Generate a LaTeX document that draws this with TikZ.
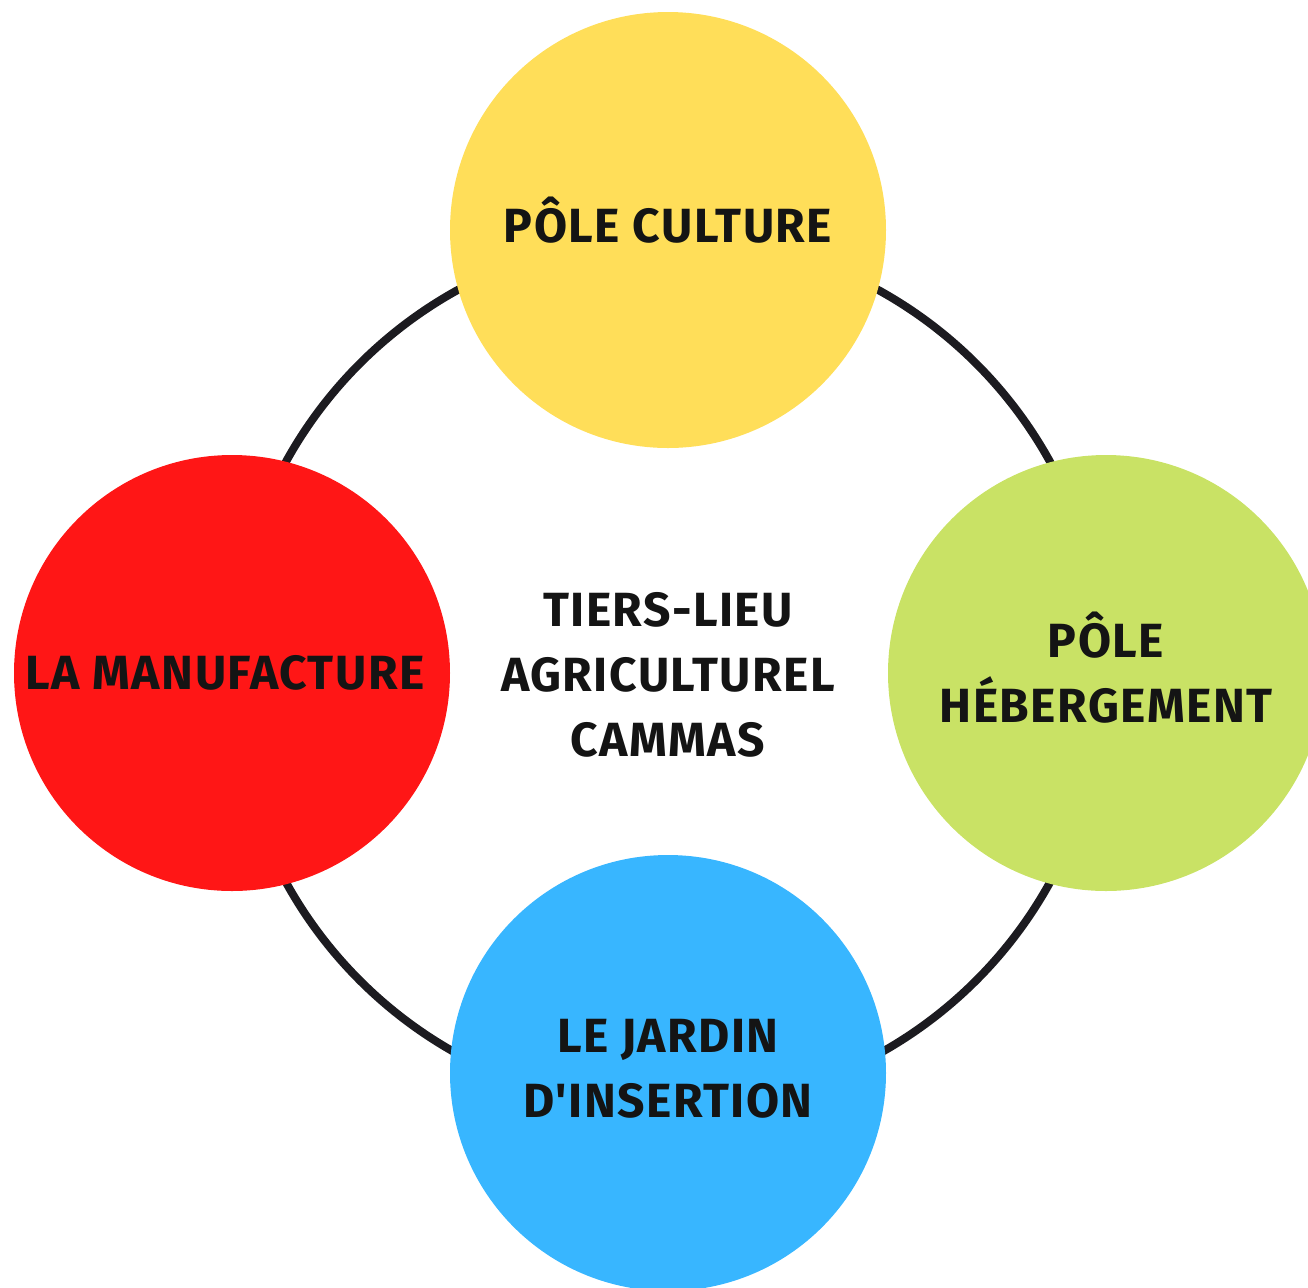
\documentclass[tikz,border=0pt]{standalone}
\usepackage{fontspec}
\newfontfamily\polefont[LetterSpace=3]{Fira Sans}
\usetikzlibrary{positioning}
\definecolor{culture}{HTML}{FFDE59}
\definecolor{heberg}{HTML}{C9E265}
\definecolor{jardin}{HTML}{38B6FF}
\definecolor{manuf}{HTML}{FF1616}
\definecolor{ringline}{HTML}{1C1B20}
\definecolor{inktext}{HTML}{141414}
\begin{document}
\begin{tikzpicture}[x=0.5pt, y=-0.5pt,
    font=\polefont\bfseries\fontsize{24}{32.5}\selectfont,
    pole/.style={circle, minimum size=218pt, inner sep=0pt},
    poletext/.style={align=center, text=inktext, inner sep=0pt}]
        \useasboundingbox (0,0) rectangle (1308,1287);
        \node[circle, draw=ringline, line width=4pt, minimum size=436pt, inner sep=0pt] (ring) at (668,672) {};
        \node[pole, fill=culture] (culture) at (668,230) {};
        \node[pole, fill=manuf] (manuf) at (232,673) {};
        \node[pole, fill=heberg] (heberg) at (1106,673) {};
        \node[pole, fill=jardin] (jardin) at (668,1073) {};
        \node[poletext, yshift=5pt] (culture-txt) at (culture) {PÔLE CULTURE};
        \node[poletext, xshift=-3.5pt] (manuf-txt) at (manuf) {LA MANUFACTURE};
        \node[poletext, yshift=2.5pt] (heberg-txt) at (heberg) {PÔLE\\HÉBERGEMENT};
        \node[poletext, yshift=2pt] (jardin-txt) at (jardin) {LE JARDIN\\D'INSERTION};
        \node[poletext] (tiers) at (668,675) {TIERS-LIEU\\AGRICULTUREL\\CAMMAS};
      \end{tikzpicture}
\end{document}
